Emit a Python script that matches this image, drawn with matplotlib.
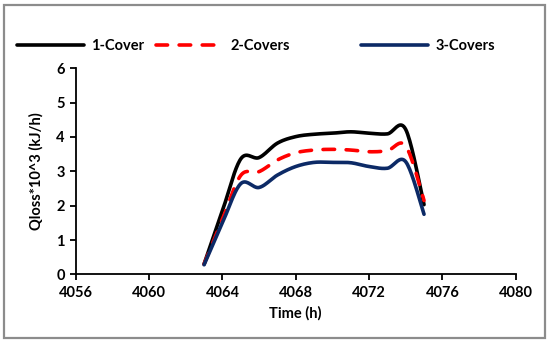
import numpy as np
import matplotlib
matplotlib.use('Agg')
import matplotlib.pyplot as plt
from matplotlib.lines import Line2D
from matplotlib.patches import Rectangle

# hourly readings
hours = [4063, 4064, 4065, 4066, 4067, 4068, 4069, 4070, 4071, 4072, 4073, 4074, 4075]
cover1 = [0.30, 1.85, 3.36, 3.40, 3.82, 4.01, 4.08, 4.11, 4.15, 4.11, 4.09, 4.22, 2.03]
cover2 = [0.30, 1.60, 2.88, 2.99, 3.33, 3.54, 3.62, 3.64, 3.62, 3.57, 3.60, 3.74, 2.15]
cover3 = [0.28, 1.50, 2.64, 2.53, 2.89, 3.14, 3.26, 3.26, 3.25, 3.14, 3.09, 3.28, 1.75]

plt.rcParams['font.family'] = ['Lato', 'DejaVu Sans']
plt.rcParams['font.weight'] = 'bold'


def smooth(x, y, n=20):
    # excel-like smoothed line (catmull-rom through the points)
    x = np.asarray(x, float)
    y = np.asarray(y, float)
    px = np.concatenate([[x[0]], x, [x[-1]]])
    py = np.concatenate([[y[0]], y, [y[-1]]])
    xs, ys = [], []
    t = np.linspace(0, 1, n, endpoint=False)
    for i in range(1, len(px) - 2):
        for p, out in ((px, xs), (py, ys)):
            p0, p1, p2, p3 = p[i - 1], p[i], p[i + 1], p[i + 2]
            out.extend(0.5 * (2 * p1 + (-p0 + p2) * t
                              + (2 * p0 - 5 * p1 + 4 * p2 - p3) * t ** 2
                              + (-p0 + 3 * p1 - 3 * p2 + p3) * t ** 3))
    xs.append(x[-1])
    ys.append(y[-1])
    return xs, ys


fig = plt.figure(figsize=(5.53, 3.43), dpi=100)
ax = fig.add_axes([0.137, 0.2, 0.7955, 0.601])

navy = '#0c2a66'
x1, y1 = smooth(hours, cover1)
x2, y2 = smooth(hours, cover2)
x3, y3 = smooth(hours, cover3)
ax.plot(x1, y1, color='black', lw=2.6, solid_capstyle='round')
ax.plot(x2, y2, color='red', lw=2.6, dashes=(3.2, 3.2), dash_capstyle='round')
ax.plot(x3, y3, color=navy, lw=2.6, solid_capstyle='round')

ax.set_xlim(4056, 4080)
ax.set_ylim(0, 6)
ax.set_xticks(range(4056, 4081, 4))
ax.set_yticks(range(0, 7))
ax.spines['top'].set_visible(False)
ax.spines['right'].set_visible(False)
for s in ('left', 'bottom'):
    ax.spines[s].set_linewidth(1.3)
ax.tick_params(direction='out', length=4, width=1.3, labelsize=10.5, pad=4)
ax.set_xlabel('Time (h)', fontsize=10.5, fontweight='bold', labelpad=5)
ax.set_ylabel('Qloss*10^3 (kJ/h)', fontsize=10.5, fontweight='bold', labelpad=9)

labels = ['1-Cover', '2-Covers', '3-Covers']
styles = [dict(color='black'), dict(color='red', dashes=(3.2, 3.2), dash_capstyle='round'),
          dict(color=navy)]
starts = [0.03, 0.282, 0.653]
for lab, st, x0 in zip(labels, styles, starts):
    h = Line2D([], [], lw=2.6, solid_capstyle='round', **st)
    fig.legend([h], [lab], loc='center left', bbox_to_anchor=(x0, 0.866),
               frameon=False, fontsize=10.5, handlelength=4.6, handletextpad=0.5,
               borderpad=0, borderaxespad=0)

fig.patches.append(Rectangle((0.008, 0.014), 0.978, 0.972, transform=fig.transFigure,
                             fill=False, edgecolor='#8c8c8c', lw=1.6))

fig.savefig('out.png', dpi=100)
